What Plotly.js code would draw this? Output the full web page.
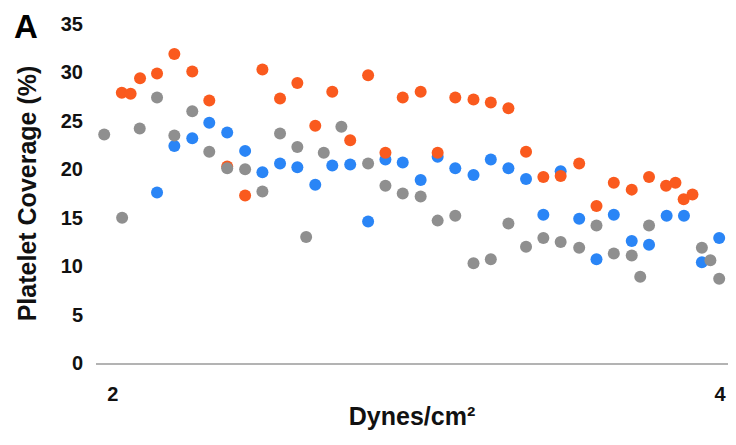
<!DOCTYPE html>
<html>
<head>
<meta charset="utf-8">
<script src="https://cdn.plot.ly/plotly-3.0.1.min.js"></script>
<style>
  html, body { margin: 0; padding: 0; background: #ffffff; }
  #chart { width: 736px; height: 445px; }
</style>
</head>
<body>
<div id="chart"></div>
<script>
// Shear stress (dynes/cm²) and platelet coverage (%) for the three series
const orangeX = [2.030, 2.059, 2.090, 2.146, 2.203, 2.262, 2.318, 2.377, 2.436, 2.493,
                 2.551, 2.608, 2.667, 2.723, 2.782, 2.841, 2.898, 2.955, 3.014, 3.070,
                 3.128, 3.188, 3.245, 3.303, 3.361, 3.418, 3.475, 3.536, 3.593, 3.650,
                 3.709, 3.766, 3.822, 3.853, 3.880, 3.909];
const orangeY = [27.9, 27.8, 29.4, 29.9, 31.9, 30.1, 27.1, 20.3, 17.3, 30.3,
                 27.3, 28.9, 24.5, 28.0, 23.0, 29.7, 21.7, 27.4, 28.0, 21.7,
                 27.4, 27.2, 26.9, 26.3, 21.8, 19.2, 19.3, 20.6, 16.2, 18.6,
                 17.9, 19.2, 18.3, 18.6, 16.9, 17.4];

const grayX = [1.972, 2.031, 2.089, 2.146, 2.203, 2.262, 2.318, 2.377, 2.436, 2.493,
               2.551, 2.608, 2.637, 2.695, 2.753, 2.841, 2.898, 2.955, 3.014, 3.070,
               3.128, 3.188, 3.245, 3.303, 3.361, 3.418, 3.475, 3.536, 3.593, 3.650,
               3.709, 3.737, 3.766, 3.940, 3.968, 3.997];
const grayY = [23.6, 15.0, 24.2, 27.4, 23.5, 26.0, 21.8, 20.1, 20.0, 17.7,
               23.7, 22.3, 13.0, 21.7, 24.4, 20.6, 18.3, 17.5, 17.2, 14.7,
               15.2, 10.3, 10.7, 14.4, 12.0, 12.9, 12.5, 11.9, 14.2, 11.3,
               11.1, 8.9, 14.2, 11.9, 10.6, 8.7];

const blueX = [2.146, 2.203, 2.262, 2.318, 2.377, 2.436, 2.493, 2.551, 2.608, 2.667,
               2.723, 2.782, 2.841, 2.898, 2.955, 3.014, 3.070, 3.128, 3.188, 3.245,
               3.303, 3.361, 3.418, 3.475, 3.536, 3.593, 3.650, 3.709, 3.766, 3.824,
               3.881, 3.940, 3.997];
const blueY = [17.6, 22.4, 23.2, 24.8, 23.8, 21.9, 19.7, 20.6, 20.2, 18.4,
               20.4, 20.5, 14.6, 21.0, 20.7, 18.9, 21.3, 20.1, 19.4, 21.0,
               20.1, 19.0, 15.3, 19.8, 14.9, 10.7, 15.3, 12.6, 12.2, 15.2,
               15.2, 10.4, 12.9];

const xTicks = [2, 4];
const yTicks = [0, 5, 10, 15, 20, 25, 30, 35];

const FONT = 'Liberation Sans, Arial, Helvetica, sans-serif';

function series(x, y, color) {
  return {
    type: 'scatter',
    mode: 'markers',
    x: x,
    y: y,
    marker: { size: 12, color: color, line: { width: 0 } },
    hoverinfo: 'x+y',
    showlegend: false
  };
}

const data = [
  series(blueX, blueY, '#2a85f6'),
  series(orangeX, orangeY, '#fa5a1e'),
  series(grayX, grayY, '#8f8f8f')
];

const layout = {
  width: 736,
  height: 445,
  margin: { l: 96, r: 8, t: 24, b: 82 },
  paper_bgcolor: '#ffffff',
  plot_bgcolor: '#ffffff',
  font: { family: FONT, color: '#111111' },
  xaxis: {
    range: [1.945, 4.026],
    tickvals: xTicks,
    ticktext: xTicks.map(String),
    ticks: '',
    showgrid: false,
    zeroline: false,
    showline: true,
    linecolor: '#b3b3b3',
    linewidth: 2,
    tickfont: { family: FONT, size: 20, weight: 'bold', color: '#111111' },
    ticklabelstandoff: 12,
    title: {
      text: 'Dynes/cm²',
      font: { family: FONT, size: 25, weight: 'bold', color: '#111111' },
      standoff: 3
    }
  },
  yaxis: {
    range: [0, 35],
    tickvals: yTicks,
    ticks: '',
    showgrid: false,
    zeroline: false,
    showline: false,
    tickfont: { family: FONT, size: 20, weight: 'bold', color: '#111111' },
    ticklabelstandoff: 12,
    title: {
      text: 'Platelet Coverage (%)',
      font: { family: FONT, size: 25, weight: 'bold', color: '#111111' },
      standoff: 17
    }
  },
  annotations: [{
    text: 'A',
    xref: 'paper', yref: 'paper',
    x: -0.111, y: 0.994,
    xanchor: 'center', yanchor: 'middle',
    showarrow: false,
    font: { family: FONT, size: 33, weight: 'bold', color: '#000000' }
  }]
};

Plotly.newPlot('chart', data, layout, { displayModeBar: false, staticPlot: true });
</script>
</body>
</html>
